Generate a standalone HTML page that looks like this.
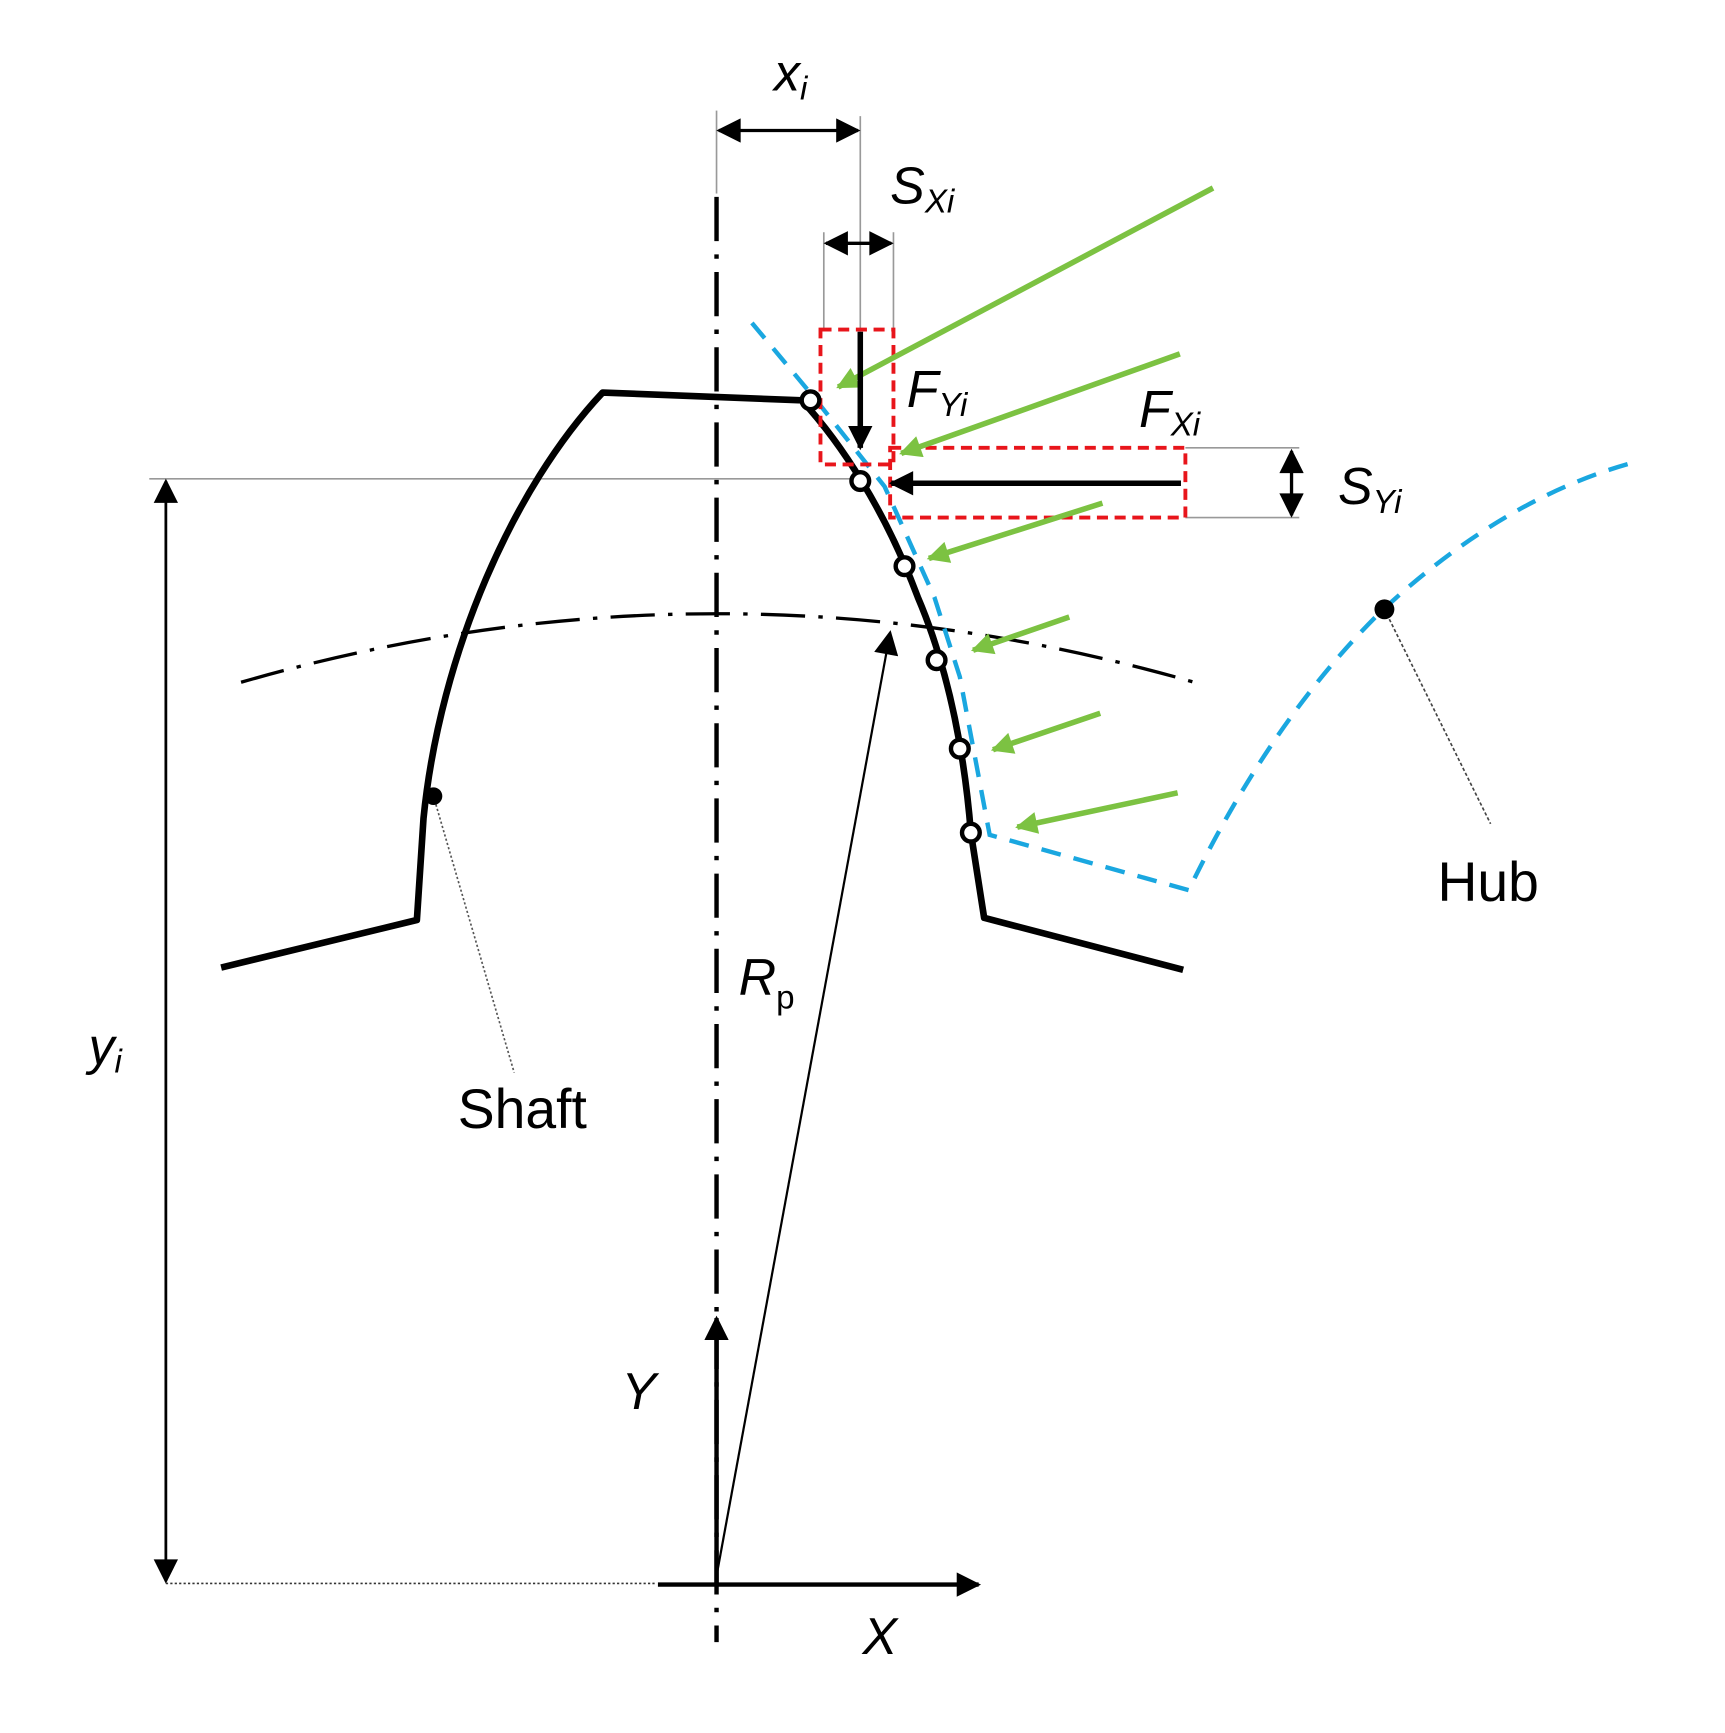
<!DOCTYPE html>
<html><head><style>html,body{margin:0;padding:0;background:#fff}svg{display:block}</style></head>
<body>
<svg width="1725" height="1733" viewBox="0 0 1560 1567.2" xmlns="http://www.w3.org/2000/svg" font-family="Liberation Sans, sans-serif">
<defs>
<marker id="abig" viewBox="0 0 10 10" refX="9" refY="5" markerWidth="24" markerHeight="22" orient="auto-start-reverse" markerUnits="userSpaceOnUse"><path d="M0,0 L10,5 L0,10 z" fill="#000"/></marker>
<marker id="ag" viewBox="0 0 10 10" refX="9" refY="5" markerWidth="26" markerHeight="20" orient="auto" markerUnits="userSpaceOnUse"><path d="M0,0 L10,5 L0,10 z" fill="#7cc242"/></marker>
</defs>
<rect width="1560" height="1568" fill="#fff"/>
<g stroke="#999" stroke-width="1.5" fill="none">
<line x1="648" y1="100" x2="648" y2="175"/>
<line x1="778" y1="105" x2="778" y2="300"/>
<line x1="745" y1="210" x2="745" y2="298"/>
<line x1="808" y1="210" x2="808" y2="298"/>
<line x1="1072" y1="405" x2="1175" y2="405"/>
<line x1="1072" y1="468" x2="1175" y2="468"/>
<line x1="135" y1="433" x2="780" y2="433"/>
<line x1="150" y1="1432" x2="592" y2="1432" stroke="#333" stroke-dasharray="2,2"/>
<line x1="392" y1="720" x2="465" y2="970" stroke="#555" stroke-dasharray="2,2"/>
<line x1="1252" y1="551" x2="1348" y2="745" stroke="#444" stroke-dasharray="3,2"/>
</g>
<g stroke="#000" stroke-width="3" fill="none">
<line x1="650" y1="118" x2="776" y2="118" marker-start="url(#abig)" marker-end="url(#abig)"/>
<line x1="747" y1="220" x2="806" y2="220" marker-start="url(#abig)" marker-end="url(#abig)"/>
<line x1="1168" y1="408" x2="1168" y2="466" marker-start="url(#abig)" marker-end="url(#abig)"/>
<line x1="150" y1="435" x2="150" y2="1430" stroke-width="2.5" marker-start="url(#abig)" marker-end="url(#abig)"/>
<line x1="648" y1="1425" x2="805" y2="572" stroke-width="2" marker-end="url(#abig)"/>
</g>
<line x1="648" y1="178" x2="648" y2="1485" stroke="#000" stroke-width="4" stroke-dasharray="40,12,4,12"/>
<path d="M218,617 Q648,493 1080,617" stroke="#000" stroke-width="3" fill="none" stroke-dasharray="40,12,4,12"/>
<path d="M680,292 L735,358 L800,440 L845,540 L868,612 L895,755 L1075,805 Q1150,650 1250,552 Q1360,450 1478,418" stroke="#1aa7e0" stroke-width="4" fill="none" stroke-dasharray="18,12"/>
<path d="M200,875 L377,832 L383,740 C398,590 465,440 545,355 L725,362 C760,400 800,460 830,540 C860,610 873,690 878,753 L890,830 L1070,877" stroke="#000" stroke-width="6" fill="none" stroke-linejoin="round"/>
<rect x="742" y="298" width="66" height="122" fill="none" stroke="#e8151b" stroke-width="3.5" stroke-dasharray="10,6"/>
<rect x="805" y="405" width="267" height="63" fill="none" stroke="#e8151b" stroke-width="3.5" stroke-dasharray="10,6"/>
<g stroke="#7cc242" stroke-width="5" fill="none">
<line x1="1097" y1="170" x2="758" y2="350" marker-end="url(#ag)"/>
<line x1="1067" y1="320" x2="815" y2="410" marker-end="url(#ag)"/>
<line x1="997" y1="455" x2="840" y2="505" marker-end="url(#ag)"/>
<line x1="967" y1="558" x2="880" y2="588" marker-end="url(#ag)"/>
<line x1="995" y1="645" x2="898" y2="678" marker-end="url(#ag)"/>
<line x1="1065" y1="717" x2="920" y2="748" marker-end="url(#ag)"/>
</g>
<g stroke="#000" stroke-width="5" fill="none">
<line x1="778" y1="300" x2="778" y2="405" marker-end="url(#abig)"/>
<line x1="1068" y1="437" x2="806" y2="437" marker-end="url(#abig)"/>
<line x1="595" y1="1433" x2="885" y2="1433" stroke-width="4" marker-end="url(#abig)"/>
<line x1="648" y1="1433" x2="648" y2="1192" stroke-width="4" marker-end="url(#abig)"/>
</g>
<g fill="#fff" stroke="#000" stroke-width="4">
<circle cx="733" cy="362" r="8"/><circle cx="778" cy="435" r="8"/><circle cx="818" cy="512" r="8"/>
<circle cx="847" cy="597" r="8"/><circle cx="868" cy="677" r="8"/><circle cx="878" cy="753" r="8"/>
</g>
<circle cx="392" cy="720" r="8" fill="#000"/>
<circle cx="1252" cy="551" r="9" fill="#000"/>
<g font-size="47" fill="#000">
<text x="700" y="82" font-style="italic">x<tspan font-size="30" dy="8">i</tspan></text>
<text x="805" y="184" font-style="italic">S<tspan font-size="30" dy="8">Xi</tspan></text>
<text x="820" y="368" font-style="italic">F<tspan font-size="30" dy="8">Yi</tspan></text>
<text x="1030" y="386" font-style="italic">F<tspan font-size="30" dy="8">Xi</tspan></text>
<text x="1210" y="456" font-style="italic">S<tspan font-size="30" dy="8">Yi</tspan></text>
<text x="80" y="962" font-style="italic">y<tspan font-size="30" dy="8">i</tspan></text>
<text x="668" y="900" font-style="italic">R<tspan font-size="30" dy="12" font-style="normal">p</tspan></text>
<text x="414" y="1020" font-size="50">Shaft</text>
<text x="1300" y="815" font-size="50">Hub</text>
<text x="562" y="1274" font-style="italic">Y</text>
<text x="780" y="1496" font-style="italic">X</text>
</g>
</svg>
</body></html>
